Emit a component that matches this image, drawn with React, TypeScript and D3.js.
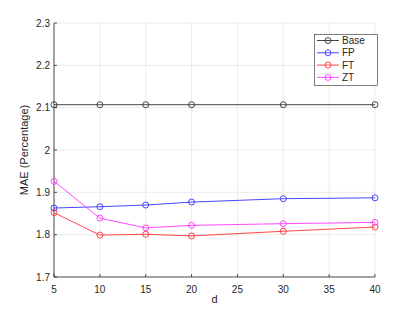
import React from "react";
import * as d3 from "d3";

const dValues = [5, 10, 15, 20, 30, 40];
const baseMae = [2.107, 2.107, 2.107, 2.107, 2.107, 2.107];
const fpMae = [1.863, 1.866, 1.87, 1.877, 1.885, 1.887];
const ftMae = [1.852, 1.799, 1.801, 1.797, 1.808, 1.818];
const ztMae = [1.926, 1.839, 1.816, 1.822, 1.826, 1.829];

const xTicks = [5, 10, 15, 20, 25, 30, 35, 40];
const yTicks = [1.7, 1.8, 1.9, 2, 2.1, 2.2, 2.3];

const series = [
  { name: "Base", values: baseMae, color: "#333333" },
  { name: "FP", values: fpMae, color: "#3333ff" },
  { name: "FT", values: ftMae, color: "#ff3333" },
  { name: "ZT", values: ztMae, color: "#ff33ff" },
];

const W = 415;
const H = 312;
const left = 54;
const right = 375;
const top = 23;
const bottom = 277;

export default function App() {
  const x = d3.scaleLinear().domain([5, 40]).range([left, right]);
  const y = d3.scaleLinear().domain([1.7, 2.3]).range([bottom, top]);
  const line = d3
    .line<number>()
    .x((_, i) => x(dValues[i]))
    .y((v) => y(v));

  const font = "'Liberation Sans', Arial, sans-serif";

  return (
    <svg
      width={W}
      height={H}
      style={{ position: "absolute", left: 0, top: 0, background: "#fff" }}
      fontFamily={font}
    >
      {/* grid */}
      {xTicks.map((t) => (
        <line key={"gx" + t} x1={x(t)} x2={x(t)} y1={top} y2={bottom} stroke="#ebebeb" strokeWidth={1} />
      ))}
      {yTicks.map((t) => (
        <line key={"gy" + t} x1={left} x2={right} y1={y(t)} y2={y(t)} stroke="#ebebeb" strokeWidth={1} />
      ))}

      {/* axes */}
      <line x1={left} x2={left} y1={top} y2={bottom} stroke="#262626" strokeWidth={0.8} />
      <line x1={left} x2={right} y1={bottom} y2={bottom} stroke="#262626" strokeWidth={0.8} />
      {xTicks.map((t) => (
        <g key={"tx" + t}>
          <line x1={x(t)} x2={x(t)} y1={bottom} y2={bottom - 3} stroke="#262626" strokeWidth={0.8} />
          <text x={x(t)} y={bottom + 16} fontSize={10} textAnchor="middle" fill="#262626">
            {t}
          </text>
        </g>
      ))}
      {yTicks.map((t) => (
        <g key={"ty" + t}>
          <line x1={left} x2={left + 3} y1={y(t)} y2={y(t)} stroke="#262626" strokeWidth={0.8} />
          <text x={left - 4} y={y(t) + 3.5} fontSize={10} textAnchor="end" fill="#262626">
            {d3.format("~g")(t)}
          </text>
        </g>
      ))}

      {/* labels */}
      <text x={(left + right) / 2} y={bottom + 26} fontSize={11} textAnchor="middle" fill="#262626">
        d
      </text>
      <text
        transform={`translate(${28},${(top + bottom) / 2}) rotate(-90)`}
        fontSize={11}
        textAnchor="middle"
        fill="#262626"
      >
        MAE (Percentage)
      </text>

      {/* series */}
      {series.map((s) => (
        <g key={s.name}>
          <path d={line(s.values) || ""} fill="none" stroke={s.color} strokeWidth={0.9} />
          {s.values.map((v, i) => (
            <circle key={i} cx={x(dValues[i])} cy={y(v)} r={3} fill="none" stroke={s.color} strokeWidth={0.9} />
          ))}
        </g>
      ))}

      {/* legend */}
      <rect x={314.5} y={34.5} width={63} height={51} fill="#fff" stroke="#262626" strokeWidth={0.6} />
      {series.map((s, i) => {
        const ly = 40.5 + i * 12.3;
        return (
          <g key={"lg" + s.name}>
            <line x1={317} x2={339} y1={ly} y2={ly} stroke={s.color} strokeWidth={0.9} />
            <circle cx={328} cy={ly} r={3} fill="none" stroke={s.color} strokeWidth={0.9} />
            <text x={342} y={ly + 3.5} fontSize={10} fill="#262626">
              {s.name}
            </text>
          </g>
        );
      })}
    </svg>
  );
}
